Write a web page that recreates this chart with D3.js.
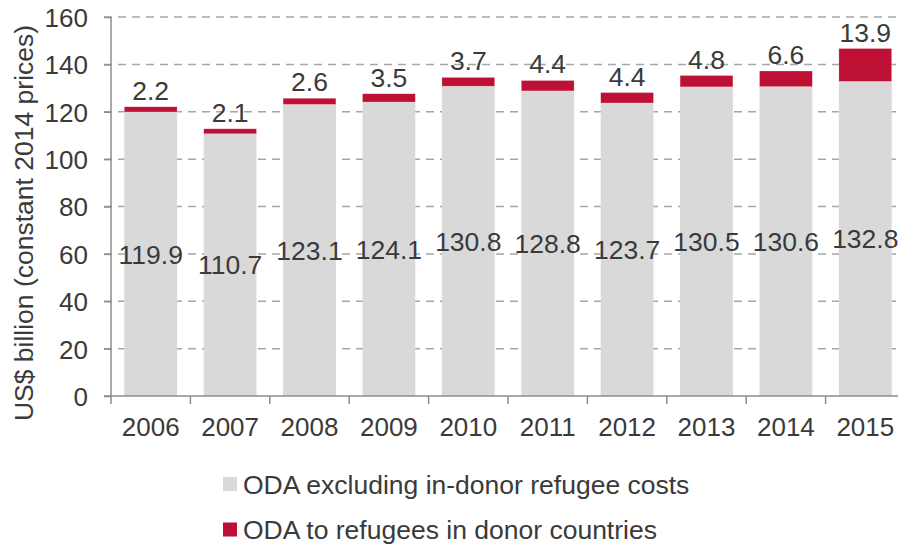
<!DOCTYPE html>
<html><head><meta charset="utf-8">
<script src="https://cdn.jsdelivr.net/npm/d3@7"></script>
<style>body{margin:0;background:#fff}svg{display:block}text{font-family:"Liberation Sans",Arial,sans-serif;fill:#3a3a3a}</style>
</head><body><svg id="c" width="898" height="546"></svg>
<script>
const years = ["2006","2007","2008","2009","2010","2011","2012","2013","2014","2015"];
const odaExcl = [119.9,110.7,123.1,124.1,130.8,128.8,123.7,130.5,130.6,132.8];
const odaRefugees = [2.2,2.1,2.6,3.5,3.7,4.4,4.4,4.8,6.6,13.9];
const yTicks = [0,20,40,60,80,100,120,140,160];
const seriesNames = ["ODA excluding in-donor refugee costs","ODA to refugees in donor countries"];
const colors = ["#d9d9d9","#be0f34"];
const FS = "26.5px";

const svg = d3.select("#c");
const x0 = 111, bandW = 79.4;
const x = d3.scaleBand().domain(years).range([x0, x0 + bandW*years.length]).paddingInner(0.335).paddingOuter(0.1675);
const y = d3.scaleLinear().domain([0,160]).range([396,17]);

// gridlines
svg.append("g").selectAll("line").data(yTicks.filter(d=>d>0)).join("line")
  .attr("x1",104).attr("x2",898).attr("y1",d=>y(d)).attr("y2",d=>y(d))
  .attr("stroke","#a6a6a6").attr("stroke-width",1.5).attr("stroke-dasharray","8,6");

// bars
const g = svg.append("g");
years.forEach((yr,i)=>{
  g.append("rect").attr("x",x(yr)).attr("width",x.bandwidth())
    .attr("y",y(odaExcl[i])).attr("height",y(0)-y(odaExcl[i]))
    .attr("fill",colors[0]);
  g.append("rect").attr("x",x(yr)).attr("width",x.bandwidth())
    .attr("y",y(odaExcl[i]+odaRefugees[i])).attr("height",y(odaExcl[i])-y(odaExcl[i]+odaRefugees[i]))
    .attr("fill",colors[1]).attr("stroke","#fff").attr("stroke-opacity",0.4).attr("stroke-width",0.6);
});

// y axis
const yAxis = d3.axisLeft(y).tickValues(yTicks).tickSize(7).tickPadding(16);
const ya = svg.append("g").attr("transform","translate(111,0)").call(yAxis);
ya.select(".domain").attr("stroke","#8c8c8c").attr("stroke-width",1.5).attr("d","M0,396V17");
ya.selectAll(".tick line").attr("stroke","#8c8c8c").attr("stroke-width",1.5);
ya.selectAll("text").style("font-size","26px").style("font-family","'Liberation Sans',Arial,sans-serif").attr("fill","#3a3a3a").attr("dy","0.36em");

// x axis
const xTickPos = years.map((d,i)=>x0 + i*bandW);
svg.append("line").attr("x1",104).attr("x2",898).attr("y1",396).attr("y2",396)
  .attr("stroke","#8c8c8c").attr("stroke-width",1.5);
svg.append("g").selectAll("line").data(xTickPos).join("line")
  .attr("x1",d=>d).attr("x2",d=>d).attr("y1",396).attr("y2",404)
  .attr("stroke","#8c8c8c").attr("stroke-width",1.5);
svg.append("g").selectAll("text").data(years).join("text")
  .attr("x",d=>x(d)+x.bandwidth()/2).attr("y",436).attr("text-anchor","middle")
  .style("font-size","26px").text(d=>d);

// value labels
svg.append("g").selectAll("text").data(years).join("text")
  .attr("x",d=>x(d)+x.bandwidth()/2).attr("y",(d,i)=>y(odaExcl[i]/2)).attr("dy","0.36em")
  .attr("text-anchor","middle").style("font-size",FS).text((d,i)=>odaExcl[i].toFixed(1));
svg.append("g").selectAll("text").data(years).join("text")
  .attr("x",d=>x(d)+x.bandwidth()/2).attr("y",(d,i)=>y(odaExcl[i]+odaRefugees[i])-7)
  .attr("text-anchor","middle").style("font-size",FS).text((d,i)=>odaRefugees[i].toFixed(1));

// y title
svg.append("text").attr("transform","translate(33,223) rotate(-90)").attr("text-anchor","middle")
  .style("font-size",FS).text("US$ billion (constant 2014 prices)");

// legend
const lg = svg.append("g");
seriesNames.forEach((n,i)=>{
  const ly = 484 + i*45.5;
  lg.append("rect").attr("x",223).attr("y",ly-7).attr("width",14).attr("height",14).attr("fill",colors[i]);
  lg.append("text").attr("x",243).attr("y",ly).attr("dy","0.36em").style("font-size",FS).text(n);
});
</script></body></html>
